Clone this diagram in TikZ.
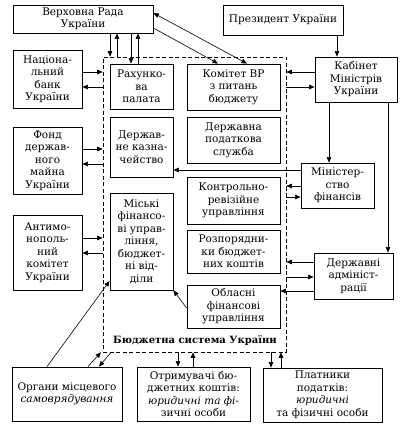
\documentclass[tikz,border=0pt]{standalone}
\usepackage{fontspec}
\setmainfont{DejaVu Serif}
\usetikzlibrary{arrows.meta}
\newcommand\bx[6]{\node[box, minimum width={#4-#2}, minimum height={#5-#3}] (#1) at ({(#2+#4)/2},{(#3+#5)/2}) {#6};}
\begin{document}
\begin{tikzpicture}[x=1pt,y=-1pt,
  box/.style={draw, line width=0.8pt, align=center, inner sep=0pt, font=\fontsize{10.5}{12.5}\selectfont},
  con/.style={line width=0.6pt, -{Triangle[length=5.5pt,width=4.5pt]}},
  dcon/.style={line width=0.6pt, {Triangle[length=5.5pt,width=4.5pt]}-{Triangle[length=5.5pt,width=4.5pt]}},
  lbl/.style={font=\fontsize{10}{12}\selectfont\bfseries, inner sep=0pt}]
\useasboundingbox (0,0) rectangle (401,427);
% budget system frame
\node[draw, dashed, dash pattern=on 4pt off 2.5pt, line width=0.6pt, minimum width=183pt, minimum height=295pt, inner sep=0pt] (bs) at (194.5,204.5) {};
\node[lbl] (bsl) at (195,341) {Бюджетна система України};
% boxes
\bx{vr}{13}{5}{153}{33}{Верховна Рада\\України}
\bx{pres}{223}{5}{343}{35}{Президент України}
\bx{nbu}{13}{50}{82}{108}{Націона-\\льний\\банк\\України}
\bx{rp}{110}{64}{173}{109}{Рахунко-\\ва\\палата}
\bx{kom}{187}{64}{280}{110}{Комітет ВР\\з питань\\бюджету}
\bx{kmu}{315}{57}{397}{102}{Кабінет\\Міністрів\\України}
\bx{dk}{110}{117}{173}{177}{Держав-\\не казна-\\чейство}
\bx{dps}{187}{117}{280}{163}{Державна\\податкова\\служба}
\bx{fdm}{13}{127}{82}{194}{Фонд\\держав-\\ного\\майна\\України}
\bx{mf}{301}{163}{374}{208}{Міністер-\\ство\\фінансів}
\bx{kru}{187}{177}{280}{224}{Контрольно-\\ревізійне\\управління}
\bx{mfu}{110}{193}{173}{290}{Міські\\фінансо-\\ві управ-\\ління,\\бюджет-\\ні від-\\діли}
\bx{amk}{13}{215}{82}{290}{Антимо-\\нополь-\\ний\\комітет\\України}
\bx{rbk}{187}{230}{280}{273}{Розпорядни-\\ки бюджет-\\них коштів}
\bx{da}{314}{253}{393}{299}{Державні\\адмініст-\\рації}
\bx{ofu}{187}{285}{280}{328}{Обласні\\фінансові\\управління}
\bx{oms}{12}{367}{122}{421}{Органи місцевого\\\textit{самоврядування}}
\bx{otr}{137}{367}{250}{421}{Отримувачі бю-\\джетних коштів:\\\textit{юридичні та фі-}\\зичні особи}
\bx{pl}{263}{368}{382}{422}{Платники\\податків:\\\textit{юридичні}\\та фізичні особи}
% connectors: Верховна Рада
\draw[con] (110,0 |- vr.south) -- (110,0 |- bs.north);
\draw[con] (117,0 |- bs.north) -- (117,0 |- vr.south);
\draw[con] (131,0 |- vr.south) -- (131,0 |- rp.north);
\draw[con] (138,0 |- rp.north) -- (138,0 |- vr.south);
\draw[dcon] (247,0 |- kom.north) -- (vr.east |- 0,13);
\draw[con] (vr.east |- 0,28) -- (218,0 |- kom.north);
% Президент, Кабінет
\draw[con] (337,0 |- pres.south) -- (337,0 |- kmu.north);
\draw[con] (kmu.west |- 0,72) -- (bs.east |- 0,72);
\draw[con] (bs.east |- 0,87) -- (kmu.west |- 0,87);
\draw[con] (329,0 |- kmu.south) -- (329,0 |- mf.north);
\draw[con] (388,0 |- kmu.south) -- (388,0 |- da.north);
% Міністерство фінансів
\draw[con] (mf.west |- 0,170) -- (dk.east |- 0,170);
\draw[con] (mf.west |- 0,186) -- (bs.east |- 0,186);
\draw[con] (bs.east |- 0,197) -- (mf.west |- 0,197);
% Державні адміністрації
\draw[con] (da.west |- 0,262) -- (bs.east |- 0,262);
\draw[con] (bs.east |- 0,277) -- (da.west |- 0,277);
\draw[con] (da.west |- 0,291) -- (ofu.east |- 0,291);
% left column
\draw[con] (nbu.east |- 0,72) -- (bs.west |- 0,72);
\draw[con] (bs.west |- 0,87) -- (nbu.east |- 0,87);
\draw[con] (fdm.east |- 0,149) -- (bs.west |- 0,149);
\draw[con] (bs.west |- 0,164) -- (fdm.east |- 0,164);
\draw[con] (amk.east |- 0,238) -- (bs.west |- 0,238);
\draw[con] (bs.west |- 0,253) -- (amk.east |- 0,253);
% bottom
\draw[con] (47,0 |- oms.north) -- (mfu.west |- 0,281);
\draw[con] (88,0 |- oms.north) -- (101,0 |- bs.south);
\draw[con] (111,0 |- bs.south) -- (99,0 |- oms.north);
\draw[con] (178,0 |- bs.south) -- (178,0 |- otr.north);
\draw[con] (193,0 |- otr.north) -- (193,0 |- bs.south);
\draw[con] (271,0 |- bs.south) -- (271,0 |- pl.north);
\draw[con] (281,0 |- pl.north) -- (281,0 |- bs.south);
\draw[con] (ofu.west |- 0,308) -- (mfu.south east);
\end{tikzpicture}
\end{document}
